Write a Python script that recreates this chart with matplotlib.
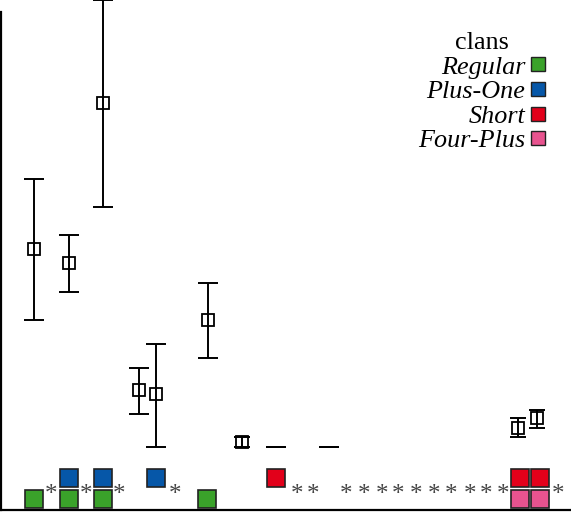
import numpy as np
from matplotlib import pyplot as plt
from matplotlib.lines import Line2D

plt.rcParams["font.family"] = ["Liberation Serif", "DejaVu Serif"]

# estimates (mean with lower / upper bound), x in column units
est_x = [0, 2.03, 4, 6.09, 7.07, 10.1, 12.06, 14.05, 17.1, 28.05, 29.15]
est_mean = [4.95, 4.6, 8.6, 1.425, 1.325, 3.175, 0.125, 0.0, 0.0, 0.475, 0.725]
est_low = [3.18, 3.875, 6.0, 0.825, 0.0, 2.225, 0.0, 0.0, 0.0, 0.25, 0.475]
est_high = [6.7, 5.3, 11.175, 1.975, 2.575, 4.1, 0.25, 0.0, 0.0, 0.725, 0.925]

# clan membership squares under the estimates
clans = ["Regular", "Plus-One", "Short", "Four-Plus"]
clan_colors = ["#3aa22a", "#0657a8", "#e2001a", "#e8538f"]
clan_x = [
    [0, 2, 4, 10.05],
    [2, 4, 7.05],
    [14.05, 28.17, 29.33],
    [28.17, 29.33],
]
clan_row = [-1.3, -0.775, -0.775, -1.3]

star_x = [1.0, 3.0, 4.95, 8.2, 15.25, 16.2, 18.1, 19.15, 20.2, 21.1,
          22.15, 23.2, 24.2, 25.25, 26.2, 27.2, 30.35]
star_y = -1.34

fig = plt.figure(figsize=(5.71, 5.14), dpi=100)
ax = fig.add_axes([1 / 571, 4 / 514, 570 / 571, 498 / 514])

for xi, mi, li, hi in zip(est_x, est_mean, est_low, est_high):
    width = hi - li
    cap = 5.5 if 0 < width < 0.6 else 7.2
    ax.errorbar([xi], [mi], yerr=[[mi - li], [hi - mi]], fmt="none",
                ecolor="black", elinewidth=1.4, capsize=cap, capthick=1.4,
                clip_on=False, zorder=3)
    if width > 0:
        ax.plot(xi, mi, "s", ms=8, mfc="white", mec="black", mew=1.3,
                zorder=2)

for name, col, xs, row in zip(clans, clan_colors, clan_x, clan_row):
    ax.plot(xs, [row] * len(xs), "s", ms=13, mfc=col, mec="#222222",
            mew=1.2, clip_on=False, zorder=4)

for sx in star_x:
    ax.text(sx, star_y, "*", ha="center", va="baseline", fontsize=18,
            color="#444444")

ax.set_xlim(-1.913, 31.13)
ax.set_ylim(-1.575, 10.875)
ax.set_xticks([])
ax.set_yticks([])
for side in ["top", "right"]:
    ax.spines[side].set_visible(False)
for side in ["left", "bottom"]:
    ax.spines[side].set_linewidth(1.6)

handles = [Line2D([], [], ls="none", marker="s", ms=9.5, mfc=c,
                  mec="#222222", mew=1.0) for c in clan_colors]
leg = ax.legend(handles, clans, title="clans", loc="upper right",
                bbox_to_anchor=(546 / 571, 1 - 32 / 514),
                bbox_transform=fig.transFigure, frameon=False,
                markerfirst=False, fontsize=18.8, title_fontsize=18.8,
                labelspacing=0.05, handlelength=0.6, handletextpad=0.2,
                borderpad=0, borderaxespad=0)
for t in leg.get_texts():
    t.set_fontstyle("italic")

fig.savefig("out.png", dpi=100)
